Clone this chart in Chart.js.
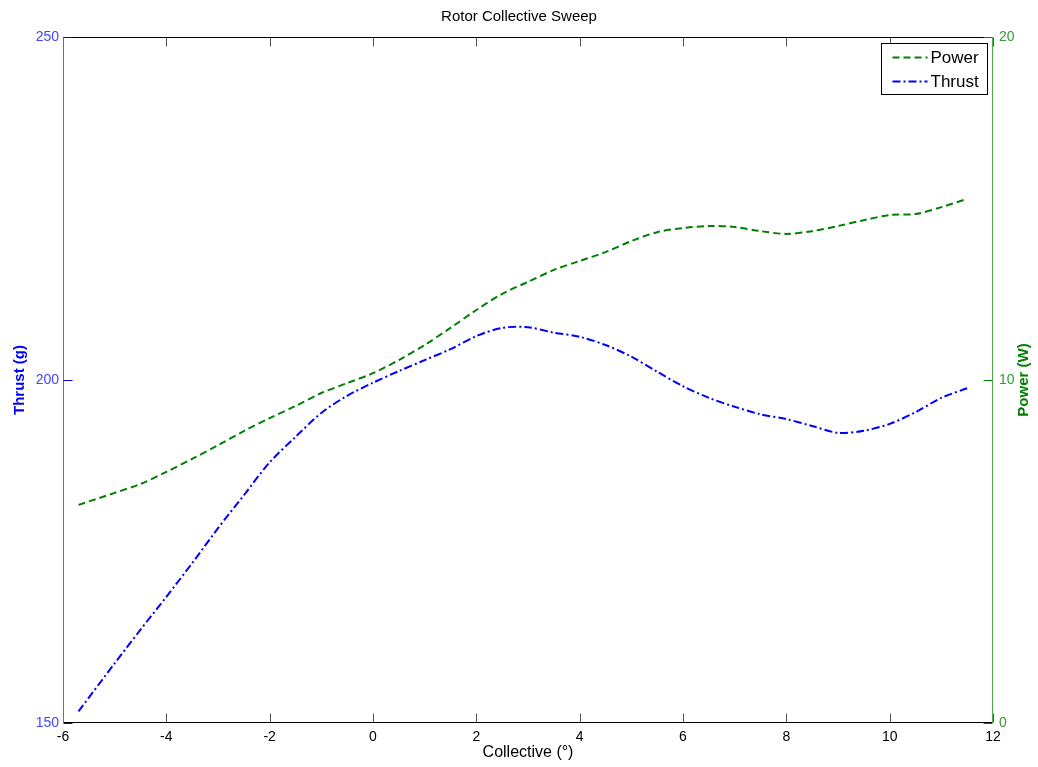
<!DOCTYPE html>
<html>
<head>
<meta charset="utf-8">
<title>Rotor Collective Sweep</title>
<script src="https://cdn.jsdelivr.net/npm/chart.js@4"></script>
<style>
  html, body { margin: 0; padding: 0; background: #fff; }
  #wrap { width: 1038px; height: 767px; }
</style>
</head>
<body>
<div id="wrap"><canvas id="sweepChart" width="1038" height="767"></canvas></div>
<script>
// collective pitch (deg)
var collective = [-5.7, -5.0, -4.5, -4.0, -3.5, -3.0, -2.5, -2.0, -1.5, -1.0, -0.5, 0, 0.5, 1.0, 1.5, 2.0, 2.5, 3.0,
                  3.5, 4.0, 4.5, 5.0, 5.5, 6.0, 6.5, 7.0, 7.5, 8.0, 8.5, 9.0, 9.5, 10.0, 10.5, 11.0, 11.5];
// thrust (g), left axis
var thrust = [151.7, 158.7, 163.6, 168.4, 173.3, 178.4, 183.2, 188.0, 191.7, 195.2, 197.7, 199.6, 201.3, 202.9, 204.5, 206.4, 207.6, 207.7,
              206.9, 206.3, 205.1, 203.4, 201.2, 199.1, 197.4, 196.1, 195.0, 194.3, 193.3, 192.3, 192.6, 193.6, 195.3, 197.4, 198.8];
// power (W), right axis
var power = [6.36, 6.71, 6.97, 7.32, 7.70, 8.10, 8.51, 8.89, 9.24, 9.62, 9.91, 10.20, 10.58, 11.02, 11.52, 12.04, 12.51, 12.86,
             13.21, 13.47, 13.73, 14.05, 14.31, 14.43, 14.49, 14.46, 14.34, 14.26, 14.34, 14.49, 14.66, 14.81, 14.84, 15.04, 15.28];
var xTicks = [-6, -4, -2, 0, 2, 4, 6, 8, 10, 12];
var thrustTicks = [150, 200, 250];
var powerTicks = [0, 10, 20];

var FONT = "Arial, 'Liberation Sans', Helvetica, sans-serif";
var BLUE = "#0000ff";
var GREEN = "#008000";

function pts(xs, ys){
  return xs.map(function (x, i) { return { x: x, y: ys[i] }; });
}

// MATLAB-like frame: axis lines, inward ticks, rotated right title, boxed legend
var matlabAxes = {
  id: "matlabAxes",
  afterDraw: function(chart){
    var ctx = chart.ctx;
    var a = chart.chartArea;
    var sx = chart.scales.x, sl = chart.scales.yThrust, sr = chart.scales.yPower;
    var tl = 9;
    var L = a.left + 0.5, R = a.right - 0.5, T = a.top + 0.5, B = a.bottom - 0.5;

    ctx.save();
    ctx.lineWidth = 1;

    // top + bottom borders
    ctx.strokeStyle = "#000";
    ctx.beginPath();
    ctx.moveTo(L, T); ctx.lineTo(R, T);
    ctx.moveTo(L, B); ctx.lineTo(R, B);
    ctx.stroke();

    // x ticks bottom + top
    ctx.strokeStyle = "#555";
    xTicks.forEach(function (v) {
      var px = Math.round(sx.getPixelForValue(v)) + 0.5;
      ctx.beginPath();
      ctx.moveTo(px, B); ctx.lineTo(px, B - tl);
      ctx.moveTo(px, T); ctx.lineTo(px, T + tl);
      ctx.stroke();
    });

    // left axis (thrust)
    ctx.strokeStyle = "#6060ff";
    ctx.beginPath();
    ctx.moveTo(L, T); ctx.lineTo(L, B);
    ctx.stroke();
    ctx.strokeStyle = BLUE;
    thrustTicks.forEach(function (v) {
      var py = Math.round(sl.getPixelForValue(v)) + 0.5;
      ctx.beginPath();
      ctx.moveTo(L, py); ctx.lineTo(L + tl, py);
      ctx.stroke();
    });

    // right axis (power)
    ctx.strokeStyle = "#4caf4c";
    ctx.beginPath();
    ctx.moveTo(R, T); ctx.lineTo(R, B);
    ctx.stroke();
    ctx.strokeStyle = GREEN;
    powerTicks.forEach(function (v) {
      var py = Math.round(sr.getPixelForValue(v)) + 0.5;
      ctx.beginPath();
      ctx.moveTo(R, py); ctx.lineTo(R - tl, py);
      ctx.stroke();
    });

    // right axis title, reads bottom to top
    ctx.translate(1024, (a.top + a.bottom) / 2);
    ctx.rotate(-Math.PI / 2);
    ctx.fillStyle = GREEN;
    ctx.font = "bold 15px " + FONT;
    ctx.textAlign = "center";
    ctx.textBaseline = "middle";
    ctx.fillText("Power (W)", 0, 0);
    ctx.restore();

    // legend
    var bx = 881.5, by = 43.5, bw = 106, bh = 51;
    ctx.save();
    ctx.fillStyle = "#fff";
    ctx.fillRect(bx, by, bw, bh);
    ctx.strokeStyle = "#000";
    ctx.lineWidth = 1;
    ctx.strokeRect(bx, by, bw, bh);
    ctx.font = "17px " + FONT;
    ctx.textBaseline = "middle";
    ctx.fillStyle = "#000";
    var order = [1, 0];
    order.forEach(function (di, row) {
      var ds = chart.data.datasets[di];
      var y = by + 14 + row * 24;
      ctx.save();
      ctx.strokeStyle = ds.borderColor;
      ctx.lineWidth = 2;
      ctx.setLineDash(ds.borderDash);
      ctx.beginPath();
      ctx.moveTo(bx + 11, y); ctx.lineTo(bx + 46, y);
      ctx.stroke();
      ctx.restore();
      ctx.fillText(ds.label, bx + 49, y + 1);
    });
    ctx.restore();
  }
};

new Chart(document.getElementById("sweepChart"), {
  type: "line",
  data: {
    datasets: [
      {
        label: "Thrust",
        data: pts(collective, thrust),
        yAxisID: "yThrust",
        borderColor: BLUE,
        borderWidth: 2,
        borderDash: [8, 3, 2, 3],
        pointRadius: 0,
        tension: 0.3,
        fill: false
      },
      {
        label: "Power",
        data: pts(collective, power),
        yAxisID: "yPower",
        borderColor: GREEN,
        borderWidth: 2,
        borderDash: [7, 4],
        pointRadius: 0,
        tension: 0.3,
        fill: false
      }
    ]
  },
  options: {
    responsive: false,
    animation: false,
    layout: { padding: 0 },
    plugins: {
      legend: { display: false },
      tooltip: { enabled: false },
      title: {
        display: true,
        text: "Rotor Collective Sweep",
        color: "#000",
        font: { family: FONT, size: 15, weight: "normal" },
        padding: { top: 8, bottom: 11 }
      }
    },
    scales: {
      x: {
        type: "linear",
        min: -6, max: 12,
        afterBuildTicks: function (s) { s.ticks = xTicks.map(function (v) { return { value: v }; }); },
        afterFit: function (s) { s.height = 44; },
        grid: { display: false, drawTicks: false },
        border: { display: false },
        ticks: { color: "#000", padding: 6, maxRotation: 0, autoSkip: false, font: { family: FONT, size: 14 } },
        title: {
          display: true,
          text: "Collective (°)",
          color: "#000",
          font: { family: FONT, size: 16, weight: "normal" },
          padding: { top: 0, bottom: 5 }
        }
      },
      yThrust: {
        type: "linear",
        position: "left",
        min: 150, max: 250,
        afterBuildTicks: function (s) { s.ticks = thrustTicks.map(function (v) { return { value: v }; }); },
        afterFit: function (s) { s.width = 63; },
        grid: { display: false, drawTicks: false },
        border: { display: false },
        ticks: { color: "#4444ff", padding: 4, font: { family: FONT, size: 14 } },
        title: {
          display: true,
          text: "Thrust (g)",
          color: BLUE,
          font: { family: FONT, size: 15, weight: "bold" },
          padding: { top: 11, bottom: 0 }
        }
      },
      yPower: {
        type: "linear",
        position: "right",
        min: 0, max: 20,
        afterBuildTicks: function (s) { s.ticks = powerTicks.map(function (v) { return { value: v }; }); },
        afterFit: function (s) { s.width = 45; },
        grid: { display: false, drawTicks: false },
        border: { display: false },
        ticks: { color: "#339933", padding: 6, font: { family: FONT, size: 14 } }
      }
    }
  },
  plugins: [matlabAxes]
});
</script>
</body>
</html>
